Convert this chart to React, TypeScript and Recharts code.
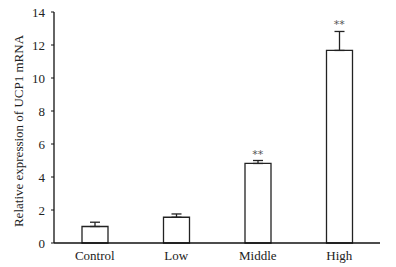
import { BarChart, Bar, XAxis, YAxis, ErrorBar, Line, LabelList, Label } from "recharts"

const groups = ["Control", "Low", "Middle", "High"]
const expression = [1.0, 1.56, 4.82, 11.67]
const sd = [0.26, 0.2, 0.18, 1.15]
const marks = ["", "", "**", "**"]
const yTicks = [0, 2, 4, 6, 8, 10, 12, 14]

const font = "Liberation Serif"

const chartData = groups.map((name, i) => ({
  name,
  value: expression[i],
  err: [0, sd[i]],
  top: expression[i] + sd[i],
  mark: marks[i],
}))

export default function App() {
  return (
    <div style={{ position: "absolute", left: 0, top: 0, background: "#fff", fontFamily: font }}>
      <BarChart
        width={396}
        height={267}
        data={chartData}
        margin={{ top: 12, right: 16, left: 0, bottom: 0 }}
        style={{ fontFamily: font }}
      >
        <XAxis
          dataKey="name"
          height={24}
          tickLine={false}
          axisLine={{ stroke: "#111", strokeWidth: 1.3 }}
          tick={{ fill: "#222", fontSize: 13, fontFamily: font }}
        />
        <YAxis
          width={54}
          domain={[0, 14]}
          ticks={yTicks}
          interval={0}
          tickSize={3}
          tickMargin={6}
          axisLine={{ stroke: "#111", strokeWidth: 1.3 }}
          tickLine={{ stroke: "#111" }}
          tick={{ fill: "#222", fontSize: 13, fontFamily: font }}
        >
          <Label
            content={() => (
              <text
                transform="translate(18,131) rotate(-90)"
                textAnchor="middle"
                dominantBaseline="central"
                fontSize={13}
                fontFamily={font}
                fill="#222"
              >
                Relative expression of UCP1 mRNA
              </text>
            )}
          />
        </YAxis>
        <Bar
          dataKey="value"
          barSize={26}
          fill="#fff"
          stroke="#222"
          strokeWidth={1.3}
          isAnimationActive={false}
        >
          <ErrorBar dataKey="err" width={5} stroke="#222" strokeWidth={1.3} direction="y" />
        </Bar>
        <Line
          dataKey="top"
          stroke="none"
          dot={false}
          activeDot={false}
          isAnimationActive={false}
        >
          <LabelList
            dataKey="mark"
            position="top"
            offset={3}
            fill="#555"
            fontSize={11}
            fontFamily="DejaVu Sans"
          />
        </Line>
      </BarChart>
    </div>
  )
}
